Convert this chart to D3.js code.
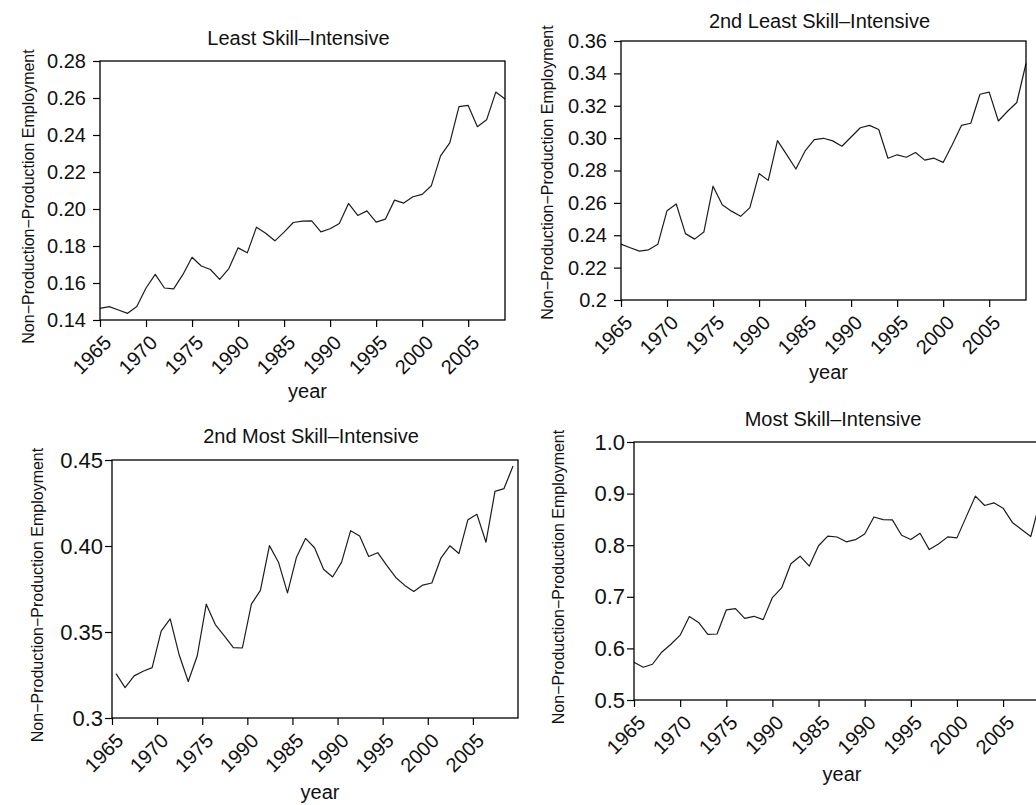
<!DOCTYPE html>
<html>
<head>
<meta charset="utf-8">
<script src="https://cdn.jsdelivr.net/npm/d3@7"></script>
<style>
  html, body { margin: 0; padding: 0; background: #fff; }
  svg { display: block; }
  text { font-family: "Liberation Sans", Arial, Helvetica, sans-serif; fill: #111; }
</style>
</head>
<body>
<svg id="chart" width="1036" height="805"></svg>
<script>
// ---------------- data ----------------
const years = [1965,1966,1967,1968,1969,1970,1971,1972,1973,1974,
               1975,1976,1977,1978,1979,1980,1981,1982,1983,1984,
               1985,1986,1987,1988,1989,1990,1991,1992,1993,1994,
               1995,1996,1997,1998,1999,2000,2001,2002,2003,2004,
               2005,2006,2007,2008,2009];

const leastSkill = [0.1463,0.1472,0.1454,0.1436,0.1473,0.1573,0.1647,0.1573,0.1568,0.1645,
                    0.1739,0.1692,0.1673,0.1620,0.1678,0.1790,0.1763,0.1902,0.1869,0.1828,
                    0.1875,0.1927,0.1934,0.1936,0.1876,0.1893,0.1922,0.2030,0.1965,0.1990,
                    0.1929,0.1945,0.2048,0.2032,0.2066,0.2079,0.2126,0.2287,0.2357,0.2553,
                    0.2560,0.2445,0.2482,0.2632,0.2595];

const secondLeastSkill = [0.2345,0.2323,0.2302,0.2310,0.2344,0.2552,0.2593,0.2410,0.2376,0.2420,
                          0.2703,0.2588,0.2549,0.2517,0.2571,0.2781,0.2739,0.2985,0.2898,0.2809,
                          0.2921,0.2991,0.2999,0.2983,0.2950,0.3007,0.3064,0.3079,0.3053,0.2876,
                          0.2897,0.2882,0.2911,0.2864,0.2876,0.2850,0.2961,0.3079,0.3092,0.3271,
                          0.3284,0.3106,0.3166,0.3220,0.3461];

const secondMostSkill = [0.3258,0.3177,0.3245,0.3272,0.3293,0.3505,0.3576,0.3366,0.3212,0.3362,
                         0.3662,0.3543,0.3477,0.3409,0.3407,0.3662,0.3742,0.4002,0.3906,0.3727,
                         0.3935,0.4044,0.3990,0.3865,0.3820,0.3906,0.4089,0.4058,0.3939,0.3961,
                         0.3887,0.3817,0.3771,0.3736,0.3773,0.3785,0.3929,0.4001,0.3956,0.4153,
                         0.4184,0.4022,0.4318,0.4334,0.4465];

const mostSkill = [0.5732,0.5635,0.5693,0.5926,0.6081,0.6256,0.6618,0.6504,0.6271,0.6279,
                   0.6745,0.6772,0.6582,0.6622,0.6558,0.6985,0.7172,0.7639,0.7787,0.7595,
                   0.7989,0.8177,0.8159,0.8066,0.8107,0.8217,0.8547,0.8497,0.8491,0.8192,
                   0.8109,0.8231,0.7915,0.8024,0.8161,0.8142,0.8549,0.8951,0.8769,0.8821,
                   0.8718,0.8441,0.8305,0.8169,0.8850];

const titles = ["Least Skill\u2013Intensive", "2nd Least Skill\u2013Intensive",
                "2nd Most Skill\u2013Intensive", "Most Skill\u2013Intensive"];

const xTickValues = [1965,1970,1975,1980,1985,1990,1995,2000,2005];
const xTickLabels = ["1965","1970","1975","1990","1985","1990","1995","2000","2005"];

const yTicks1 = [0.14,0.16,0.18,0.20,0.22,0.24,0.26,0.28];
const yLabels1 = ["0.14","0.16","0.18","0.20","0.22","0.24","0.26","0.28"];
const yTicks2 = [0.20,0.22,0.24,0.26,0.28,0.30,0.32,0.34,0.36];
const yLabels2 = ["0.2","0.22","0.24","0.26","0.28","0.30","0.32","0.34","0.36"];
const yTicks3 = [0.30,0.35,0.40,0.45];
const yLabels3 = ["0.3","0.35","0.40","0.45"];
const yTicks4 = [0.5,0.6,0.7,0.8,0.9,1.0];
const yLabels4 = ["0.5","0.6","0.7","0.8","0.9","1.0"];

const yAxisTitle = "Non\u2212Production\u2212Production Employment";
const xAxisTitle = "year";

// ---------------- layout (positions / styles only) ----------------
const panels = [
  { values: leastSkill, title: titles[0], ticks: yTicks1, labels: yLabels1, ydom: [0.14, 0.28], xdom: [1965, 2009], xoff: 0,
    x0: 100, x1: 505, yTop: 61, yBot: 320, titleY: 45, ytitleX: 28, ytitleDy: 6, yearY: 398, tickFont: 20, gap: 14 },
  { values: secondLeastSkill, title: titles[1], ticks: yTicks2, labels: yLabels2, ydom: [0.20, 0.36], xdom: [1965, 2009], xoff: 0,
    x0: 621, x1: 1026, yTop: 41, yBot: 300, titleY: 28, ytitleX: 547, ytitleDy: 2, yearY: 379, tickFont: 20, gap: 14 },
  { values: secondMostSkill, title: titles[2], ticks: yTicks3, labels: yLabels3, ydom: [0.30, 0.45], xdom: [1965, 2010], xoff: 0.45,
    x0: 112, x1: 518, yTop: 460, yBot: 718, titleY: 443, ytitleX: 37, ytitleDy: 6, yearY: 799, tickFont: 22, gap: 9 },
  { values: mostSkill, title: titles[3], ticks: yTicks4, labels: yLabels4, ydom: [0.5, 1.0], xdom: [1965, 2009], xoff: 0,
    x0: 634, x1: 1040, yTop: 442, yBot: 700, titleY: 426, ytitleX: 558, ytitleDy: 6, yearY: 781, tickFont: 22, gap: 9 }
];

const svg = d3.select("#chart");

panels.forEach(p => {
  const g = svg.append("g");
  const x = d3.scaleLinear().domain(p.xdom).range([p.x0, p.x1]);
  const y = d3.scaleLinear().domain(p.ydom).range([p.yBot, p.yTop]);

  // line
  const line = d3.line()
    .x((d, i) => x(years[i] + p.xoff))
    .y(d => y(d));
  g.append("path")
    .datum(p.values)
    .attr("fill", "none")
    .attr("stroke", "#1c1c1c")
    .attr("stroke-width", 1.2)
    .attr("stroke-linejoin", "round")
    .attr("d", line);

  // box
  g.append("rect")
    .attr("x", p.x0).attr("y", p.yTop)
    .attr("width", p.x1 - p.x0).attr("height", p.yBot - p.yTop)
    .attr("fill", "none").attr("stroke", "#000").attr("stroke-width", 1.3);

  // y axis
  const yAxis = d3.axisLeft(y)
    .tickValues(p.ticks)
    .tickFormat((d, i) => p.labels[i])
    .tickSize(7)
    .tickPadding(p.gap - 7);
  const ya = g.append("g").attr("transform", `translate(${p.x0},0)`).call(yAxis);
  ya.select(".domain").remove();
  ya.selectAll(".tick line").attr("stroke", "#000").attr("stroke-width", 1.2);
  ya.selectAll(".tick text")
    .style("font-size", p.tickFont + "px")
    .style("font-family", "'Liberation Sans', Arial, sans-serif")
    .attr("fill", "#111");

  // x axis
  const xAxis = d3.axisBottom(x)
    .tickValues(xTickValues)
    .tickFormat((d, i) => xTickLabels[i])
    .tickSize(7);
  const xa = g.append("g").attr("transform", `translate(0,${p.yBot})`).call(xAxis);
  xa.select(".domain").remove();
  xa.selectAll(".tick line").attr("stroke", "#000").attr("stroke-width", 1.2);
  xa.selectAll(".tick text")
    .style("font-size", "20px")
    .style("font-family", "'Liberation Sans', Arial, sans-serif")
    .attr("fill", "#111")
    .attr("text-anchor", "end")
    .attr("dy", null)
    .attr("y", 0)
    .attr("transform", "translate(12,24) rotate(-45)");

  // title
  g.append("text")
    .attr("x", (p.x0 + p.x1) / 2 - 4)
    .attr("y", p.titleY)
    .attr("text-anchor", "middle")
    .style("font-size", "20px")
    .text(p.title);

  // y axis title
  g.append("text")
    .attr("transform", `translate(${p.ytitleX},${(p.yTop + p.yBot) / 2 + p.ytitleDy}) rotate(-90)`)
    .attr("text-anchor", "middle")
    .attr("dy", "0.35em")
    .style("font-size", "16px")
    .text(yAxisTitle);

  // x axis title
  g.append("text")
    .attr("x", (p.x0 + p.x1) / 2 + 5)
    .attr("y", p.yearY)
    .attr("text-anchor", "middle")
    .style("font-size", "20px")
    .text(xAxisTitle);
});
</script>
</body>
</html>
